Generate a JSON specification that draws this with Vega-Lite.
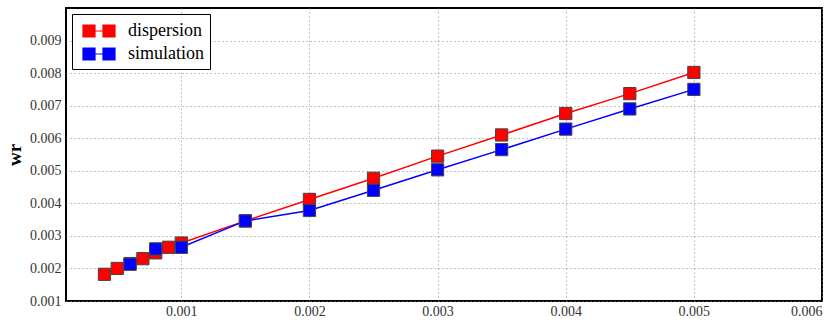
{
  "$schema": "https://vega.github.io/schema/vega-lite/v6.json",
  "autosize": {"type": "none"},
  "padding": {"left": 66, "top": 8, "right": 7, "bottom": 19},
  "width": 756,
  "height": 293,
  "background": "white",
  "config": {
    "view": {"stroke": "black", "strokeWidth": 2},
    "font": "Liberation Serif, serif",
    "axis": {
      "labelFont": "Liberation Serif, serif",
      "labelFontSize": 14,
      "labelColor": "#333",
      "gridColor": "#888",
      "gridDash": [1, 3],
      "gridWidth": 1,
      "gridOpacity": 1,
      "ticks": false,
      "domain": false
    }
  },
  "data": {
    "values": [
      {"series": "dispersion", "x": 0.0004, "y": 0.00182},
      {"series": "dispersion", "x": 0.0005, "y": 0.00200},
      {"series": "dispersion", "x": 0.0006, "y": 0.00215},
      {"series": "dispersion", "x": 0.0007, "y": 0.00230},
      {"series": "dispersion", "x": 0.0008, "y": 0.00248},
      {"series": "dispersion", "x": 0.0009, "y": 0.00265},
      {"series": "dispersion", "x": 0.0010, "y": 0.00278},
      {"series": "dispersion", "x": 0.0015, "y": 0.00346},
      {"series": "dispersion", "x": 0.0020, "y": 0.00412},
      {"series": "dispersion", "x": 0.0025, "y": 0.00477},
      {"series": "dispersion", "x": 0.0030, "y": 0.00545},
      {"series": "dispersion", "x": 0.0035, "y": 0.00610},
      {"series": "dispersion", "x": 0.0040, "y": 0.00676},
      {"series": "dispersion", "x": 0.0045, "y": 0.00737},
      {"series": "dispersion", "x": 0.0050, "y": 0.00802},
      {"series": "simulation", "x": 0.0006, "y": 0.00213},
      {"series": "simulation", "x": 0.0008, "y": 0.00260},
      {"series": "simulation", "x": 0.0010, "y": 0.00265},
      {"series": "simulation", "x": 0.0015, "y": 0.00346},
      {"series": "simulation", "x": 0.0020, "y": 0.00378},
      {"series": "simulation", "x": 0.0025, "y": 0.00440},
      {"series": "simulation", "x": 0.0030, "y": 0.00503},
      {"series": "simulation", "x": 0.0035, "y": 0.00565},
      {"series": "simulation", "x": 0.0040, "y": 0.00628},
      {"series": "simulation", "x": 0.0045, "y": 0.00690},
      {"series": "simulation", "x": 0.0050, "y": 0.00750}
    ]
  },
  "encoding": {
    "x": {
      "field": "x", "type": "quantitative",
      "scale": {"domain": [0.0001, 0.006], "nice": false, "zero": false},
      "axis": {"title": null, "values": [0.001, 0.002, 0.003, 0.004, 0.005, 0.006], "format": ".3f", "labelPadding": 3}
    },
    "y": {
      "field": "y", "type": "quantitative",
      "scale": {"domain": [0.001, 0.010], "nice": false, "zero": false},
      "axis": {
        "title": "wr", "titleFont": "Liberation Serif, serif", "titleFontSize": 19, "titleFontWeight": "bold", "titleColor": "black",
        "titlePadding": 5,
        "values": [0.001, 0.002, 0.003, 0.004, 0.005, 0.006, 0.007, 0.008, 0.009], "format": ".3f", "labelPadding": 5
      }
    },
    "color": {
      "field": "series", "type": "nominal",
      "scale": {"domain": ["dispersion", "simulation"], "range": ["#ff0000", "#0000ff"]},
      "legend": {
        "title": null,
        "orient": "none",
        "legendX": 6,
        "legendY": 6,
        "strokeColor": "black",
        "fillColor": "white",
        "padding": 6,
        "cornerRadius": 0,
        "symbolType": "M-1.6,-0.6H-0.4V0.6H-1.6Z M-0.4,0H0.4 M0.4,-0.6H1.6V0.6H0.4Z",
        "symbolSize": 400,
        "symbolStrokeWidth": 1.2,
        "symbolOffset": 10,
        "labelFont": "Liberation Serif, serif",
        "labelFontSize": 18,
        "labelColor": "black",
        "labelOffset": 18,
        "rowPadding": 3,
        "encode": {
          "symbols": {"update": {"stroke": {"scale": "color", "field": "value"}, "fill": {"scale": "color", "field": "value"}, "opacity": {"value": 1}}}
        }
      }
    }
  },
  "layer": [
    {"mark": {"type": "line", "strokeWidth": 1.5}},
    {"mark": {"type": "point", "shape": "square", "filled": true, "size": 150, "opacity": 1, "stroke": "#444", "strokeWidth": 1}}
  ]
}
